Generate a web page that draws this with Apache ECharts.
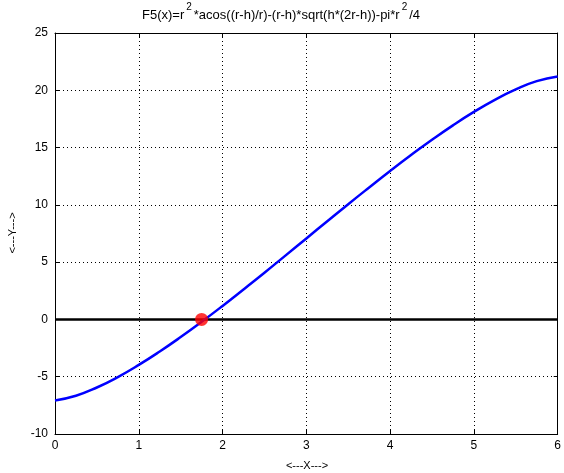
<!DOCTYPE html>
<html><head><meta charset="utf-8">
<script src="https://cdn.jsdelivr.net/npm/echarts@6/dist/echarts.min.js"></script>
<style>html,body{margin:0;padding:0;background:#fff}#c{width:564px;height:473px}</style>
</head><body><div id="c"></div>
<script>
const xValues = [0,0.25,0.5,0.75,1,1.25,1.5,1.75,2,2.25,2.5,2.75,3,3.25,3.5,3.75,4,4.25,4.5,4.75,5,5.25,5.5,5.75,6];
const yValues = [-7.07,-6.66,-5.94,-5.03,-3.97,-2.80,-1.54,-0.21,1.18,2.62,4.08,5.57,7.07,8.57,10.06,11.52,12.96,14.35,15.68,16.94,18.11,19.17,20.08,20.80,21.21];
const zeroLineX = [0,6];
const zeroLineY = [0,0];
const rootPoint = [1.75, 0];
const xTicks = [0,1,2,3,4,5,6];
const yTicks = [-10,-5,0,5,10,15,20,25];

const font = 'Liberation Sans, Arial, sans-serif';
const chart = echarts.init(document.getElementById('c'), null, {renderer:'canvas'});
const curve = xValues.map((x,i)=>[x,yValues[i]]);
const zline = zeroLineX.map((x,i)=>[x,zeroLineY[i]]);
chart.setOption({
  animation:false,
  backgroundColor:'#fff',
  grid:{left:55,right:3,top:33,bottom:39,show:false},
  graphic:[
    {type:'text', left:142, top:2, style:{
      text:'{n|F5(x)=r}{s|2}{n|*acos((r-h)/r)-(r-h)*sqrt(h*(2r-h))-pi*r}{s|2}{n|/4}',
      rich:{n:{fontSize:13,fontFamily:font,fill:'#000',verticalAlign:'bottom',lineHeight:20},
            s:{fontSize:10,fontFamily:font,fill:'#000',verticalAlign:'top',lineHeight:20,padding:[0,2,10,2]}}
    }},
    {type:'text', x:307, y:466, style:{text:'<---X--->',fontSize:11,fontFamily:font,fill:'#000',align:'center',verticalAlign:'middle'}},
    {type:'text', x:13, y:233, rotation:Math.PI/2, style:{text:'<---Y--->',fontSize:11,fontFamily:font,fill:'#000',align:'center',verticalAlign:'middle'}}
  ],
  xAxis:[
    {type:'value', min:xTicks[0], max:xTicks[xTicks.length-1], interval:1, position:'bottom',
     axisLine:{show:true,onZero:false,lineStyle:{color:'#000',width:1}},
     axisTick:{show:true,inside:true,length:4,lineStyle:{color:'#000'}},
     axisLabel:{color:'#000',fontSize:12,fontFamily:font,margin:6},
     splitLine:{show:true,lineStyle:{color:'#000',type:[1,3],width:1}}},
    {type:'value', min:xTicks[0], max:xTicks[xTicks.length-1], interval:1, position:'top',
     axisLine:{show:true,onZero:false,lineStyle:{color:'#000',width:1}},
     axisTick:{show:true,inside:true,length:4,lineStyle:{color:'#000'}},
     axisLabel:{show:false}, splitLine:{show:false}}
  ],
  yAxis:[
    {type:'value', min:yTicks[0], max:yTicks[yTicks.length-1], interval:5, position:'left',
     axisLine:{show:true,onZero:false,lineStyle:{color:'#000',width:1}},
     axisTick:{show:true,inside:true,length:4,lineStyle:{color:'#000'}},
     axisLabel:{color:'#000',fontSize:12,fontFamily:font,margin:7},
     splitLine:{show:true,lineStyle:{color:'#000',type:[1,3],width:1}}},
    {type:'value', min:yTicks[0], max:yTicks[yTicks.length-1], interval:5, position:'right',
     axisLine:{show:true,onZero:false,lineStyle:{color:'#000',width:1}},
     axisTick:{show:true,inside:true,length:4,lineStyle:{color:'#000'}},
     axisLabel:{show:false}, splitLine:{show:false}}
  ],
  series:[
    {type:'line', data:zline, showSymbol:false, lineStyle:{color:'#000',width:2.5}, z:3, silent:true},
    {type:'line', data:curve, smooth:true, showSymbol:false, lineStyle:{color:'#0000ff',width:2.5}, z:4, silent:true},
    {type:'scatter', data:[rootPoint], symbol:'circle', symbolSize:13, itemStyle:{color:'#ff0000'}, z:5, silent:true}
  ]
});
</script></body></html>
